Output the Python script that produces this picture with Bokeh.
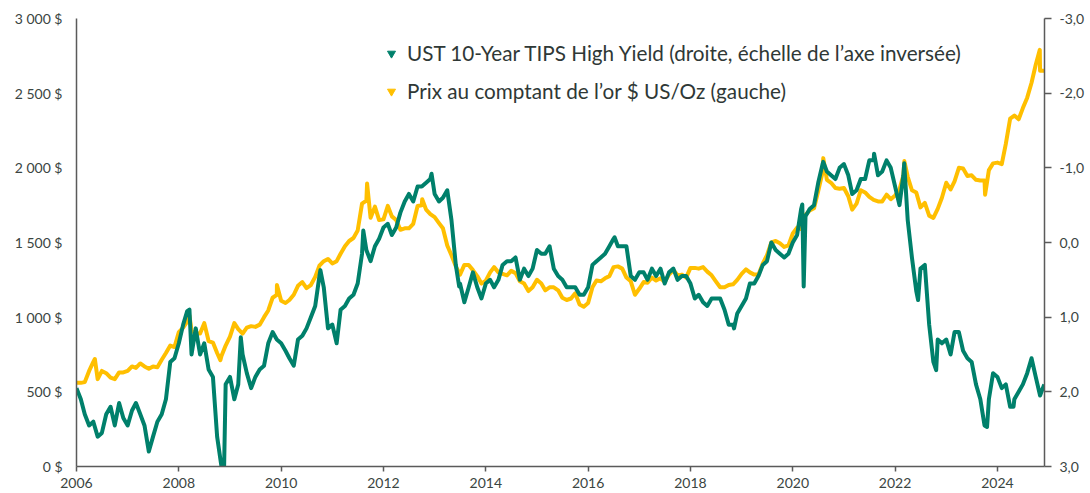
import math
import pandas as pd
from bokeh.plotting import figure
from bokeh.models import (Range1d, LinearAxis, FixedTicker, Legend, LegendItem,
                          CustomJSTickFormatter)
from bokeh.embed import file_html
from bokeh.resources import INLINE

# ---------------- data ----------------
months = pd.date_range("2006-01-01", "2024-12-01", freq="MS")

gold_2006 = [560, 560, 565, 640, 700, 585, 640, 625, 595, 585, 630, 630]
gold_2007 = [640, 670, 660, 690, 670, 655, 670, 665, 715, 760, 810, 800]
gold_2008 = [900, 930, 970, 910, 890, 890, 960, 840, 830, 760, 740, 810]
gold_2009 = [870, 960, 920, 890, 930, 940, 935, 950, 1000, 1045, 1130, 1150]
gold_2010 = [1110, 1095, 1115, 1150, 1210, 1235, 1195, 1215, 1270, 1345, 1375, 1390]
gold_2011 = [1360, 1375, 1425, 1475, 1510, 1530, 1580, 1760, 1780, 1665, 1740, 1650]
gold_2012 = [1655, 1745, 1675, 1650, 1585, 1595, 1595, 1625, 1745, 1750, 1720, 1690]
gold_2013 = [1670, 1630, 1595, 1480, 1415, 1340, 1285, 1350, 1350, 1315, 1275, 1225]
gold_2014 = [1245, 1300, 1335, 1300, 1290, 1280, 1310, 1295, 1240, 1225, 1175, 1200]
gold_2015 = [1250, 1225, 1180, 1200, 1200, 1180, 1130, 1115, 1125, 1160, 1085, 1070]
gold_2016 = [1095, 1200, 1245, 1240, 1260, 1275, 1335, 1340, 1325, 1265, 1240, 1150]
gold_2017 = [1190, 1235, 1230, 1265, 1245, 1260, 1235, 1285, 1315, 1280, 1285, 1265]
gold_2018 = [1330, 1330, 1325, 1335, 1305, 1280, 1240, 1200, 1200, 1215, 1220, 1250]
gold_2019 = [1290, 1320, 1300, 1285, 1285, 1360, 1415, 1500, 1510, 1495, 1470, 1480]
gold_2020 = [1560, 1600, 1590, 1685, 1715, 1730, 1845, 1970, 1920, 1900, 1865, 1860]
gold_2021 = [1865, 1810, 1720, 1760, 1850, 1835, 1805, 1785, 1775, 1775, 1820, 1790]
gold_2022 = [1815, 1855, 1950, 1940, 1850, 1835, 1735, 1765, 1680, 1665, 1725, 1800]
gold_2023 = [1900, 1855, 1910, 2000, 1995, 1945, 1950, 1920, 1915, 1915, 1985, 2030]
gold_2024 = [2035, 2025, 2160, 2330, 2350, 2325, 2400, 2470, 2570, 2690, 2650, 2650]

gold_extra_dates = ["2006-05-12", "2008-03-17", "2008-10-24", "2009-12-02", "2011-09-06",
                    "2012-10-04", "2020-08-06", "2022-03-08", "2023-10-05", "2024-10-30"]
gold_extra_values = [720, 1010, 712, 1215, 1895, 1790, 2065, 2045, 1820, 2790]

tips_2006 = [1.95, 2.10, 2.30, 2.45, 2.40, 2.60, 2.55, 2.30, 2.20, 2.45, 2.15, 2.35]
tips_2007 = [2.45, 2.25, 2.15, 2.30, 2.45, 2.80, 2.60, 2.40, 2.30, 2.10, 1.60, 1.55]
tips_2008 = [1.35, 1.10, 0.92, 1.50, 1.15, 1.50, 1.35, 1.70, 1.80, 2.60, 3.00, 1.90]
tips_2009 = [1.80, 2.10, 1.90, 1.50, 1.75, 1.95, 1.80, 1.70, 1.65, 1.35, 1.20, 1.30]
tips_2010 = [1.35, 1.45, 1.55, 1.65, 1.30, 1.25, 1.15, 1.00, 0.85, 0.45, 0.60, 1.15]
tips_2011 = [1.10, 1.35, 0.90, 0.85, 0.75, 0.70, 0.55, 0.15, 0.10, 0.25, 0.05, -0.05]
tips_2012 = [-0.20, -0.25, -0.10, -0.20, -0.40, -0.55, -0.65, -0.55, -0.75, -0.75, -0.80, -0.85]
tips_2013 = [-0.65, -0.55, -0.60, -0.70, -0.30, 0.30, 0.55, 0.80, 0.60, 0.40, 0.60, 0.75]
tips_2014 = [0.55, 0.50, 0.60, 0.50, 0.30, 0.25, 0.25, 0.20, 0.50, 0.35, 0.45, 0.35]
tips_2015 = [0.10, 0.15, 0.15, 0.05, 0.35, 0.45, 0.50, 0.60, 0.60, 0.60, 0.70, 0.70]
tips_2016 = [0.60, 0.30, 0.25, 0.20, 0.15, 0.05, -0.05, 0.05, 0.05, 0.05, 0.45, 0.50]
tips_2017 = [0.40, 0.40, 0.50, 0.35, 0.45, 0.35, 0.55, 0.40, 0.35, 0.50, 0.45, 0.45]
tips_2018 = [0.55, 0.75, 0.70, 0.80, 0.85, 0.75, 0.75, 0.75, 0.90, 1.10, 1.10, 0.95]
tips_2019 = [0.85, 0.75, 0.55, 0.55, 0.45, 0.30, 0.25, 0.00, 0.10, 0.15, 0.20, 0.15]
tips_2020 = [0.00, -0.10, -0.45, -0.35, -0.45, -0.50, -0.80, -1.05, -0.95, -0.90, -0.85, -1.00]
tips_2021 = [-1.05, -0.90, -0.65, -0.70, -0.85, -0.85, -1.10, -1.10, -0.90, -0.95, -1.10, -1.00]
tips_2022 = [-0.75, -0.50, -0.90, -0.30, 0.20, 0.65, 0.35, 0.30, 1.10, 1.60, 1.30, 1.35]
tips_2023 = [1.30, 1.50, 1.20, 1.20, 1.45, 1.55, 1.60, 1.90, 2.10, 2.45, 2.10, 1.75]
tips_2024 = [1.80, 1.95, 1.90, 2.20, 2.10, 2.00, 1.90, 1.75, 1.55, 1.80, 2.05, 1.90]

tips_extra_dates = ["2008-03-17", "2008-10-28", "2008-11-20", "2009-03-19", "2010-10-08",
                    "2011-08-10", "2012-12-10", "2013-06-25", "2016-07-08", "2018-11-08",
                    "2020-03-09", "2020-03-19", "2020-08-06", "2021-08-04", "2022-03-07",
                    "2022-06-14", "2022-10-21", "2023-10-19", "2024-04-25"]
tips_extra_values = [0.90, 2.95, 3.00, 1.27, 0.37, -0.16, -0.92, 0.59, -0.07, 1.15,
                     -0.51, 0.59, -1.08, -1.19, -1.06, 0.77, 1.71, 2.47, 2.20]

legend_labels = ["UST 10-Year TIPS High Yield (droite, échelle de l’axe inversée)",
                 "Prix au comptant de l’or $ US/Oz (gauche)"]
year_ticks = [2006, 2008, 2010, 2012, 2014, 2016, 2018, 2020, 2022, 2024]
left_ticks = [0, 500, 1000, 1500, 2000, 2500, 3000]
right_ticks = [-3, -2, -1, 0, 1, 2, 3]

GREEN = "#00806B"
GOLD = "#FFBF00"
TEXT = "#3b4542"
AXIS = "#5a5a5a"


def to_year(dates):
    d = pd.to_datetime(pd.Series(dates))
    days = d.dt.is_leap_year.map({True: 366, False: 365})
    return (d.dt.year + (d.dt.dayofyear - 1) / days).tolist()


def build(monthly_lists, extra_dates, extra_vals):
    vals = [v for lst in monthly_lists for v in lst]
    df = pd.DataFrame({"date": list(months) + list(pd.to_datetime(extra_dates)),
                       "v": vals + list(extra_vals)})
    df = df.sort_values("date").reset_index(drop=True)
    return to_year(df["date"]), df["v"].tolist()


gold_x, gold_y = build([gold_2006, gold_2007, gold_2008, gold_2009, gold_2010, gold_2011,
                        gold_2012, gold_2013, gold_2014, gold_2015, gold_2016, gold_2017,
                        gold_2018, gold_2019, gold_2020, gold_2021, gold_2022, gold_2023,
                        gold_2024], gold_extra_dates, gold_extra_values)
tips_x, tips_y = build([tips_2006, tips_2007, tips_2008, tips_2009, tips_2010, tips_2011,
                        tips_2012, tips_2013, tips_2014, tips_2015, tips_2016, tips_2017,
                        tips_2018, tips_2019, tips_2020, tips_2021, tips_2022, tips_2023,
                        tips_2024], tips_extra_dates, tips_extra_values)

# ---------------- figure ----------------
p = figure(width=1090, height=493, output_backend="svg", toolbar_location=None,
           x_range=Range1d(2006.0, 2024.92), y_range=Range1d(0, 3000),
           min_border_left=76, min_border_right=46, min_border_top=18,
           min_border_bottom=27)
p.outline_line_color = None
p.xgrid.visible = False
p.ygrid.visible = False
p.background_fill_color = "white"

p.extra_y_ranges = {"tips": Range1d(start=3, end=-3)}

p.line(gold_x, gold_y, color=GOLD, line_width=4, line_join="round")
p.line(tips_x, tips_y, color=GREEN, line_width=4, line_join="round", y_range_name="tips")

# x axis
xa = p.xaxis[0]
xa.ticker = FixedTicker(ticks=year_ticks)
xa.minor_tick_line_color = None
xa.major_tick_in = 0
xa.major_tick_out = 5
xa.major_label_standoff = 6
xa.axis_line_color = AXIS
xa.axis_line_width = 1.5
xa.major_tick_line_color = AXIS
xa.major_tick_line_width = 1.5
xa.major_label_text_font = "Lato"
xa.major_label_text_font_size = "14px"
xa.major_label_text_color = TEXT

# left axis
ya = p.yaxis[0]
ya.ticker = FixedTicker(ticks=left_ticks)
ya.formatter = CustomJSTickFormatter(code="""
    const t = Math.round(tick);
    let s;
    if (t >= 1000) { s = Math.floor(t/1000) + ' ' + String(t % 1000).padStart(3, '0'); }
    else { s = String(t); }
    return s + ' $';
""")
ya.minor_tick_line_color = None
ya.major_tick_line_color = None
ya.major_tick_in = 0
ya.major_tick_out = 0
ya.major_label_standoff = 14
ya.axis_line_color = AXIS
ya.axis_line_width = 1.5
ya.major_label_text_font = "Lato"
ya.major_label_text_font_size = "14px"
ya.major_label_text_color = TEXT

# right axis (inverted)
ra = LinearAxis(y_range_name="tips", ticker=FixedTicker(ticks=right_ticks),
                formatter=CustomJSTickFormatter(code="return tick.toFixed(1).replace('.', ',');"))
ra.minor_tick_line_color = None
ra.major_tick_in = 0
ra.major_tick_out = 7
ra.major_label_standoff = 8
ra.axis_line_color = AXIS
ra.axis_line_width = 1.5
ra.major_tick_line_color = AXIS
ra.major_tick_line_width = 1.5
ra.major_label_text_font = "Lato"
ra.major_label_text_font_size = "14px"
ra.major_label_text_color = TEXT
p.add_layout(ra, "right")

# legend with triangle markers
r_tips = p.scatter([math.nan], [math.nan], marker="inverted_triangle", size=14,
                   color=GREEN, y_range_name="tips")
r_gold = p.scatter([math.nan], [math.nan], marker="inverted_triangle", size=14,
                   color=GOLD)
legend = Legend(items=[LegendItem(label=legend_labels[0], renderers=[r_tips]),
                       LegendItem(label=legend_labels[1], renderers=[r_gold])],
                location=(305, 360), orientation="vertical",
                padding=0, margin=0, spacing=8,
                glyph_width=20, glyph_height=30, label_height=30, label_standoff=6,
                label_text_font="Lato", label_text_font_size="20.7px",
                label_text_color="#2f3836",
                background_fill_alpha=0, border_line_alpha=0)
p.add_layout(legend)

open("out.html", "w").write(file_html(p, INLINE))
